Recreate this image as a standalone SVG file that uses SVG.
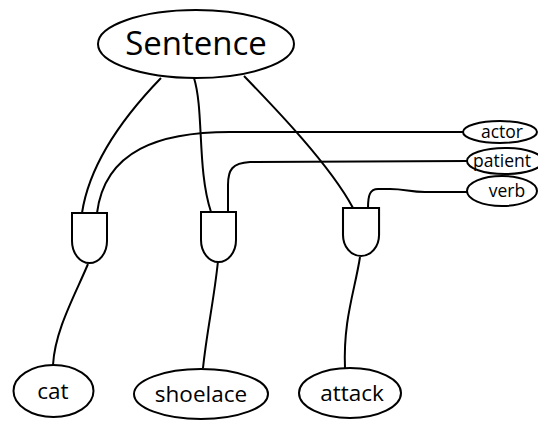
<svg xmlns="http://www.w3.org/2000/svg" width="538" height="421" viewBox="0 0 538 421">
<style>
.n{fill:#fff;stroke:#000;stroke-width:2}
.c{fill:none;stroke:#000;stroke-width:2}
text{font-family:"Open Sans","Noto Sans","Liberation Sans",sans-serif;fill:#000;text-anchor:middle}
.s{font-size:17.5px}
.m{font-size:22.5px}
</style>
<defs>
<path id="gate" d="M0,0 H35 V28 A17.5,22 0 0 1 0,28 Z" class="n"/>
</defs>
<g id="connectors">
<path class="c" d="M161,78 C130,110 90,160 82,213"/>
<path class="c" d="M464,132 L230,132 C160,132 105,150 97,213"/>
<path class="c" d="M194,78 C204,110 197,170 211,212"/>
<path class="c" d="M468,161 L250,162 C232,163 228,170 228,185 L228,212"/>
<path class="c" d="M244,76 C275,108 330,165 353,208"/>
<path class="c" d="M467,192 L425,192 C410,192 405,189 390,189 L378,189 C370,189 368,195 368,208"/>
<path class="c" d="M88,264 C75,295 55,330 53,365"/>
<path class="c" d="M218,261 C214,300 207,330 203,368"/>
<path class="c" d="M360,257 C355,290 343,320 345,368"/>
</g>
<g id="sentence"><ellipse class="n" cx="196" cy="44" rx="98" ry="34"/><text x="196" y="55" style="font-size:33px">Sentence</text></g>
<g id="actor"><ellipse class="n" cx="500" cy="132" rx="37" ry="11"/><text class="s" x="502" y="138">actor</text></g>
<g id="patient"><ellipse class="n" cx="505" cy="161" rx="38" ry="13"/><text class="s" x="502" y="167">patient</text></g>
<g id="verb"><ellipse class="n" cx="502" cy="191" rx="35" ry="15"/><text class="s" x="507" y="197">verb</text></g>
<g id="gate1"><use href="#gate" transform="translate(72,213)"/></g>
<g id="gate2"><use href="#gate" transform="translate(201,212)"/></g>
<g id="gate3"><use href="#gate" transform="translate(343,208) scale(1.03,0.96)"/></g>
<g id="cat"><ellipse class="n" cx="53.5" cy="391" rx="40" ry="26"/><text class="m" x="53" y="399">cat</text></g>
<g id="shoelace"><ellipse class="n" cx="201" cy="394" rx="67" ry="25"/><text class="m" x="201" y="402">shoelace</text></g>
<g id="attack"><ellipse class="n" cx="350" cy="393" rx="51" ry="25"/><text class="m" x="352" y="401">attack</text></g>
</svg>
